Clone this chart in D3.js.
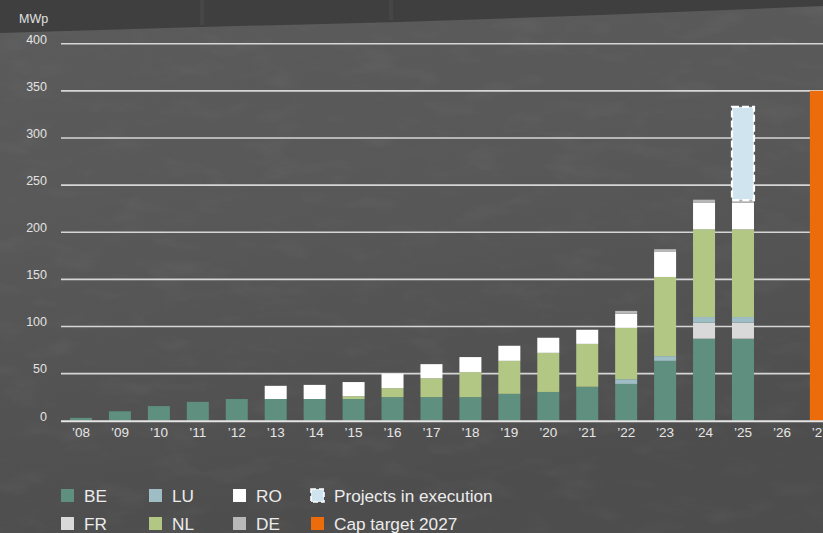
<!DOCTYPE html>
<html>
<head>
<meta charset="utf-8">
<script src="https://cdn.jsdelivr.net/npm/d3@7"></script>
<style>
  html, body { margin: 0; padding: 0; background: #555; overflow: hidden; }
  svg { display: block; font-family: "Liberation Sans", Arial, Helvetica, sans-serif; }
</style>
</head>
<body>
<svg id="chart" width="823" height="533"></svg>
<script>
// Installed capacity per year and country (MWp)
const years = ["08","09","10","11","12","13","14","15","16","17","18","19","20","21","22","23","24","25","26","27"];
const BE = [3, 10, 15.5, 20, 23, 23, 23, 23, 25, 25, 25, 28.5, 30.5, 36, 39, 63.5, 87, 87, 0, 0];
const FR = [0, 0, 0, 0, 0, 0, 0, 0, 0, 0, 0, 0, 0, 0, 0, 0, 17, 17, 0, 0];
const LU = [0, 0, 0, 0, 0, 0, 0, 0, 0, 0, 0, 0, 0, 0, 5, 5, 6, 6, 0, 0];
const NL = [0, 0, 0, 0, 0, 0, 0, 3, 9.5, 20, 26.5, 35, 41.5, 45.5, 54.5, 84, 93, 93, 0, 0];
const RO = [0, 0, 0, 0, 0, 14, 15, 15, 15.5, 15, 16, 16, 16, 15, 15, 26.5, 28.5, 28.5, 0, 0];
const DE = [0, 0, 0, 0, 0, 0, 0, 0, 0, 0, 0, 0, 0, 0, 3, 3, 3, 2.5, 0, 0];
const projects = [0, 0, 0, 0, 0, 0, 0, 0, 0, 0, 0, 0, 0, 0, 0, 0, 0, 99, 0, 0];
const capTarget = [0, 0, 0, 0, 0, 0, 0, 0, 0, 0, 0, 0, 0, 0, 0, 0, 0, 0, 0, 350];
const yTicks = [0, 50, 100, 150, 200, 250, 300, 350, 400];

const countryKeys = ["BE", "FR", "LU", "NL", "RO", "DE"];
const series = { BE, FR, LU, NL, RO, DE, projects };
const colors = {
  BE: "#5f8f7e", FR: "#d9d9d9", LU: "#9ebdc4", NL: "#b3c784",
  RO: "#ffffff", DE: "#b8b8b8", projects: "#cfe4ee", cap: "#ec6b0b"
};

const rows = years.map((y, i) => {
  const r = { year: y };
  Object.keys(series).forEach(k => r[k] = series[k][i]);
  r.cap = capTarget[i];
  return r;
});

const svg = d3.select("#chart");
const W = 823, H = 533;

// ---- concrete-like backdrop ----
const defs = svg.append("defs");
const bg = defs.append("linearGradient").attr("id", "bgGrad")
  .attr("x1", 0).attr("y1", 0).attr("x2", 0.25).attr("y2", 1);
bg.append("stop").attr("offset", "0%").attr("stop-color", "#5b5b5b");
bg.append("stop").attr("offset", "45%").attr("stop-color", "#585858");
bg.append("stop").attr("offset", "100%").attr("stop-color", "#4d4d4d");

const noise = defs.append("filter").attr("id", "grain")
  .attr("x", 0).attr("y", 0).attr("width", "100%").attr("height", "100%");
noise.append("feTurbulence").attr("type", "fractalNoise")
  .attr("baseFrequency", "0.02 0.05").attr("numOctaves", 4).attr("seed", 7);
noise.append("feColorMatrix").attr("type", "matrix")
  .attr("values", "0 0 0 0 0.5  0 0 0 0 0.5  0 0 0 0 0.5  0.9 0 0 0 -0.45");

svg.append("rect").attr("width", W).attr("height", H).attr("fill", "url(#bgGrad)");
svg.append("rect").attr("width", W).attr("height", H).attr("filter", "url(#grain)").attr("opacity", 0.16);

// dark wall strip along the top edge
svg.append("path")
  .attr("d", "M0,0 L823,0 L823,6 L600,15 L400,22 L200,27 L0,33 Z")
  .attr("fill", "#3f3f3f");
[[202, 25], [391, 20]].forEach(([x, y]) => {
  svg.append("line").attr("x1", x).attr("x2", x).attr("y1", 0).attr("y2", y)
    .attr("stroke", "#464646").attr("stroke-width", 4);
});

// ---- scales ----
const x = d3.scaleBand().domain(years)
  .range([70, 70 + 19 * 38.94 + 22]).paddingInner(0.435).paddingOuter(0);
const y = d3.scaleLinear().domain([0, 400]).range([420.7, 43.7]);
const gridLeft = 61;

// gridlines
const grid = svg.append("g");
grid.selectAll("line").data(yTicks.filter(t => t > 0)).join("line")
  .attr("x1", gridLeft).attr("x2", W)
  .attr("y1", d => y(d)).attr("y2", d => y(d))
  .attr("stroke", "#d6d6d6").attr("stroke-width", 1.6);

// y axis labels
const yAxis = svg.append("g").attr("transform", "translate(47,0)")
  .call(d3.axisLeft(y).tickValues(yTicks).tickSize(0).tickPadding(0));
yAxis.select(".domain").remove();
yAxis.selectAll("text")
  .attr("font-size", "12.5px").attr("fill", "#e2e2e2")
  .attr("font-family", "Liberation Sans, Arial, sans-serif")
  .attr("dy", "-0.05em").attr("text-anchor", "end");

svg.append("text").attr("x", 19).attr("y", 23)
  .attr("font-size", "12.5px").attr("fill", "#e2e2e2").text("MWp");

// ---- stacked bars ----
const stack = d3.stack().keys([...countryKeys, "projects"]);
const stacked = stack(rows);

const barsG = svg.append("g");
stacked.forEach(layer => {
  const key = layer.key;
  const g = barsG.append("g");
  const sel = g.selectAll("rect").data(layer.filter(d => d[1] - d[0] > 0)).join("rect")
    .attr("x", d => x(d.data.year))
    .attr("width", x.bandwidth())
    .attr("y", d => y(d[1]))
    .attr("height", d => y(d[0]) - y(d[1]))
    .attr("fill", colors[key]);
  if (key === "projects") {
    sel.attr("stroke", "#ffffff").attr("stroke-width", 2.2)
      .attr("stroke-dasharray", "7,3");
  }
});

// capacity target bar
barsG.append("g").selectAll("rect").data(rows.filter(d => d.cap > 0)).join("rect")
  .attr("x", d => x(d.year)).attr("width", x.bandwidth())
  .attr("y", d => y(d.cap)).attr("height", d => y(0) - y(d.cap))
  .attr("fill", colors.cap);

// baseline
svg.append("line").attr("x1", gridLeft).attr("x2", W)
  .attr("y1", y(0) + 0.5).attr("y2", y(0) + 0.5)
  .attr("stroke", "#e4e4e4").attr("stroke-width", 2);

// x axis labels
const xAxis = svg.append("g").attr("transform", `translate(0,${y(0)})`)
  .call(d3.axisBottom(x).tickSize(0).tickPadding(0).tickFormat(d => "\u2019" + d));
xAxis.select(".domain").remove();
xAxis.selectAll("text")
  .attr("font-size", "13.5px").attr("fill", "#e6e6e6")
  .attr("font-family", "Liberation Sans, Arial, sans-serif")
  .attr("dy", "16px");

// ---- legend ----
const legendItems = [
  { label: "BE", key: "BE", col: 0, row: 0 },
  { label: "LU", key: "LU", col: 1, row: 0 },
  { label: "RO", key: "RO", col: 2, row: 0 },
  { label: "Projects in execution", key: "projects", col: 3, row: 0 },
  { label: "FR", key: "FR", col: 0, row: 1 },
  { label: "NL", key: "NL", col: 1, row: 1 },
  { label: "DE", key: "DE", col: 2, row: 1 },
  { label: "Cap target 2027", key: "cap", col: 3, row: 1 }
];
const colX = [61, 149, 233, 311];
const rowY = [489, 517];
const lg = svg.append("g").selectAll("g").data(legendItems).join("g")
  .attr("transform", d => `translate(${colX[d.col]},${rowY[d.row]})`);
lg.append("rect").attr("width", 13).attr("height", 13)
  .attr("fill", d => colors[d.key])
  .attr("stroke", d => d.key === "projects" ? "#ffffff" : null)
  .attr("stroke-width", d => d.key === "projects" ? 1.6 : null)
  .attr("stroke-dasharray", d => d.key === "projects" ? "5,3" : null);
lg.append("text").attr("x", 23).attr("y", 12.5)
  .attr("font-size", "17.2px").attr("fill", "#ececec")
  .text(d => d.label);
</script>
</body>
</html>
